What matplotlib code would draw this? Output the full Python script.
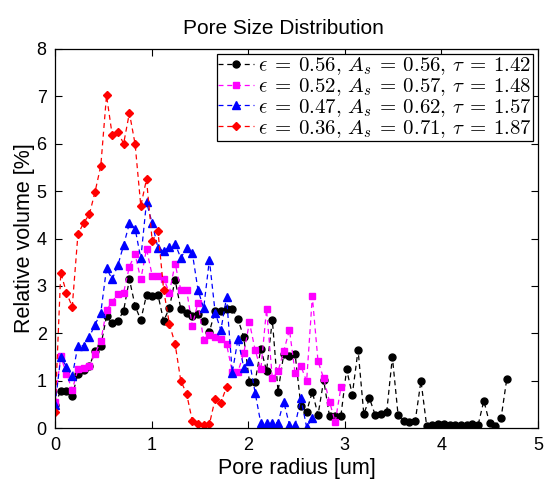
import matplotlib
matplotlib.use("Agg")
import matplotlib.pyplot as plt

plt.rcParams['font.family'] = ['Liberation Sans', 'DejaVu Sans']
plt.rcParams['mathtext.fontset'] = 'cm'

radius = [0.000, 0.059, 0.118, 0.178, 0.237, 0.296, 0.355, 0.414, 0.474, 0.533,
          0.592, 0.651, 0.710, 0.770, 0.829, 0.888, 0.947, 1.006, 1.066, 1.125,
          1.184, 1.243, 1.302, 1.362, 1.421, 1.480, 1.539, 1.598, 1.658, 1.717,
          1.776, 1.835, 1.894, 1.954, 2.013, 2.072, 2.131, 2.190, 2.250, 2.309,
          2.368, 2.427, 2.486, 2.546, 2.605, 2.664, 2.723, 2.782, 2.842, 2.901,
          2.960, 3.019, 3.078, 3.138, 3.197, 3.256, 3.315, 3.374, 3.434, 3.493,
          3.552, 3.611, 3.670, 3.730, 3.789, 3.848, 3.907, 3.966, 4.026, 4.085,
          4.144, 4.203, 4.262, 4.322, 4.381, 4.440, 4.499, 4.558, 4.618, 4.677]

vol_black = [0.50, 0.79, 0.79, 0.68, 1.15, 1.23, 1.31, 1.62, 1.74, 2.36,
             2.21, 2.26, 2.48, 3.14, 2.58, 2.28, 2.81, 2.79, 2.81, 2.26,
             2.54, 3.13, 2.52, 2.43, 2.37, 2.40, 2.27, 2.03, 2.48, 2.48,
             2.52, 2.52, 2.30, 1.92, 0.98, 0.98, 1.68, 1.21, 2.28, 0.77,
             1.56, 1.52, 1.56, 0.46, 0.35, 0.77, 0.28, 1.01, 0.25, 0.26,
             0.26, 1.24, 0.71, 1.65, 0.30, 0.63, 0.28, 0.29, 0.34, 1.50,
             0.28, 0.16, 0.14, 0.16, 1.00, 0.05, 0.06, 0.08, 0.08, 0.07,
             0.06, 0.07, 0.06, 0.08, 0.07, 0.58, 0.11, 0.05, 0.21, 1.03]

vol_magenta = [0.55, 1.52, 1.14, 0.81, 1.24, 1.26, 1.31, 1.57, 1.84, 2.49,
               2.67, 2.83, 2.86, 3.41, 3.67, 3.14, 3.78, 3.22, 3.22, 3.15,
               2.86, 3.47, 2.92, 2.92, 2.16, 2.65, 1.85, 1.96, 1.93, 1.88,
               1.77, 1.19, 1.19, 1.58, 2.23, 1.65, 1.24, 2.51, 1.05, 1.20,
               1.62, 2.08, 1.16, 1.31, 0.99, 2.78, 1.41, 1.05, 0.56, 0.13,
               0.86]

vol_blue = [0.49, 1.50, 1.30, 1.10, 1.74, 1.74, 1.93, 2.18, 2.44, 3.37,
            3.14, 3.44, 3.86, 4.32, 4.21, 3.58, 4.77, 4.32, 3.80, 3.73,
            3.83, 3.89, 3.59, 3.80, 3.70, 2.92, 2.53, 3.55, 2.44, 2.07,
            2.76, 1.17, 1.88, 1.28, 1.41, 0.75, 0.10, 0.10, 0.10, 0.12,
            0.56, 0.07, 0.07, 0.63, 0.02, 0.21]

vol_red = [0.35, 3.28, 2.86, 2.56, 4.09, 4.33, 4.51, 4.98, 5.54, 7.02,
           6.18, 6.25, 6.00, 6.65, 5.99, 4.69, 5.25, 3.95, 4.15, 2.91,
           2.20, 1.78, 1.00, 0.73, 0.16, 0.08, 0.07, 0.08, 0.62, 0.54,
           0.87]

labels = [r'$\epsilon\:=\:0.56,\,A_s\:=\:0.56,\,\tau\:=\:1.42$',
          r'$\epsilon\:=\:0.52,\,A_s\:=\:0.57,\,\tau\:=\:1.48$',
          r'$\epsilon\:=\:0.47,\,A_s\:=\:0.62,\,\tau\:=\:1.57$',
          r'$\epsilon\:=\:0.36,\,A_s\:=\:0.71,\,\tau\:=\:1.87$']

xticks = [0, 1, 2, 3, 4, 5]
yticks = [0, 1, 2, 3, 4, 5, 6, 7, 8]

fig = plt.figure(figsize=(5.45, 4.79), dpi=100)
ax = fig.add_axes([0.101, 0.106, 0.886, 0.792])

series = [(vol_black, 'k', 'o', 5.0),
          (vol_magenta, '#ff00ff', 's', 4.6),
          (vol_blue, '#0000ff', '^', 6.2),
          (vol_red, '#ff0000', 'D', 4.5)]
for (vals, col, mk, ms), lab in zip(series, labels):
    ax.plot(radius[:len(vals)], vals, linestyle=(0, (4, 3)), color=col, lw=0.9,
            marker=mk, markersize=ms, markerfacecolor=col, markeredgecolor=col,
            label=lab)

ax.set_xlim(0, 5)
ax.set_ylim(0, 8)
ax.set_xticks(xticks)
ax.set_yticks(yticks)
ax.tick_params(direction='in', top=True, right=True, length=5, width=0.8,
               labelsize=13, pad=6)
for s in ax.spines.values():
    s.set_linewidth(0.9)

ax.set_title('Pore Size Distribution', fontsize=15, pad=11, x=0.474)
ax.set_xlabel('Pore radius [um]', fontsize=15.5, labelpad=3)
ax.set_ylabel('Relative volume [%]', fontsize=15.5, labelpad=1)

leg = ax.legend(loc='upper right', fontsize=15, frameon=True, fancybox=False,
                edgecolor='k', framealpha=1, borderpad=0.05, labelspacing=-0.05,
                handlelength=1.7, handletextpad=0.2, borderaxespad=0.25)
leg.get_frame().set_linewidth(0.9)

fig.savefig('out.png', dpi=100)
